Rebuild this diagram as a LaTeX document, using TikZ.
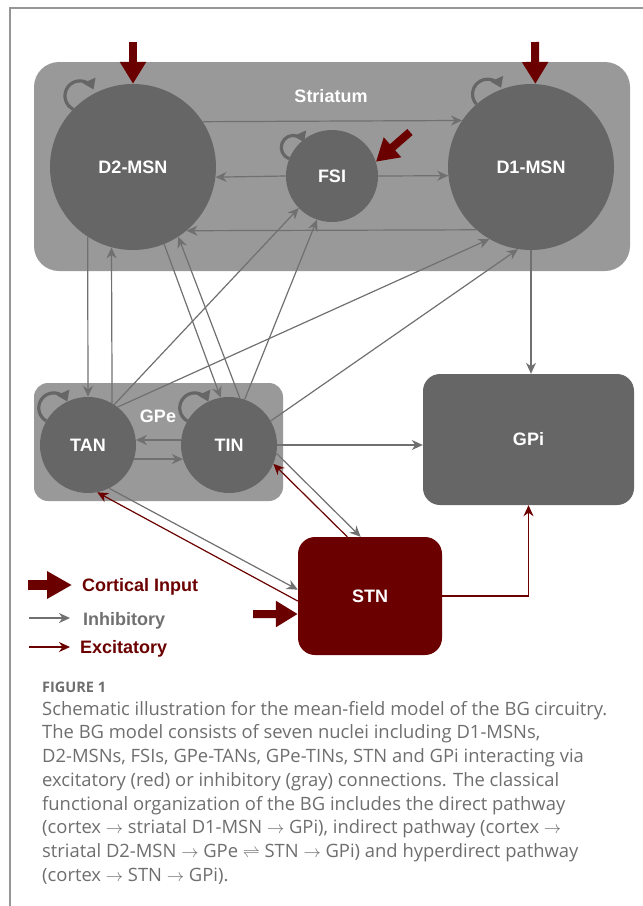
\documentclass[tikz,border=0pt]{standalone}
\usepackage{fontspec}
\usepackage{tikz}
\usetikzlibrary{arrows.meta}
\setmainfont{Liberation Sans}
\newfontfamily\capfont{Open Sans}
\tikzset{
  region/.style   = {shape=rectangle, draw=none, fill=regiongrey,
                     inner sep=0pt},
  nucleus/.style  = {shape=circle, fill=nucgrey, inner sep=0pt,
                     text=white},
  outnode/.style  = {shape=rectangle, rounded corners=17pt,
                     inner sep=0pt, text=white},
  inhib/.style    = {draw=linegrey, line width=1.2pt,
                     -{Stealth[length=11pt, width=10pt, inset=3.5pt]}},
  excit/.style    = {inhib, draw=stnred},
  selfloop/.style = {draw=nucgrey, line width=3.2pt,
                     -{Triangle[length=10pt, width=13pt]}},
  cortical/.style = {draw=stnred, line width=8pt,
                     -{Triangle[length=22pt, width=25pt]}},
  legtext/.style  = {anchor=base west, inner sep=0pt},
}
\definecolor{regiongrey}{RGB}{153,153,153}
\definecolor{nucgrey}{RGB}{102,102,102}
\definecolor{linegrey}{RGB}{112,112,112}
\definecolor{stnred}{RGB}{107,0,0}
\definecolor{framegrey}{RGB}{150,150,150}
\definecolor{capgrey}{RGB}{110,110,110}

\begin{document}
\begin{tikzpicture}
  [
    x                 = 1pt,
    y                 = 1pt,
    every node/.style = {font=\bfseries\fontsize{18}{20}\selectfont}
  ]
  \useasboundingbox (0,0) rectangle (643,-906);
  \draw [framegrey, line width=1.5pt] (643,-8) -- (10,-8) -- (10,-906);

  \node [region, rounded corners=25pt, minimum width=596pt, minimum height=209pt] (striatum) at (332,-166.5) {};
  \node [region, rounded corners=14pt, minimum width=249pt, minimum height=118pt] (gpe) at (158.5,-442) {};
  \node [text=white] (striatumlabel) at (331,-96) {Striatum};
  \node [text=white] (gpelabel) at (158,-416) {GPe};

  \node [nucleus, minimum size=166pt] (D2)  at (133,-167) {D2-MSN};
  \node [nucleus, minimum size=166pt] (D1)  at (531,-167) {D1-MSN};
  \node [nucleus, minimum size=92pt]  (FSI) at (332,-176) {FSI};
  \node [nucleus, minimum size=96pt]  (TAN) at (88,-445)  {TAN};
  \node [nucleus, minimum size=96pt]  (TIN) at (229,-445) {TIN};
  \node [outnode, fill=nucgrey, minimum width=211pt, minimum height=131pt] (GPi) at (528.5,-439.5) {GPi};
  \node [outnode, fill=stnred, minimum width=144pt, minimum height=118pt] (STN) at (370,-596) {STN};

  \draw [inhib] (D2.33.7) -- (D1.146.3);
  \draw [inhib] (FSI.west) -- (D2.353.8);
  \draw [inhib] (FSI.east) -- (D1.186.9);
  \draw [inhib] (D1.229.4) -- (D2.310.6);
  \draw [inhib] (D2.237.2) -- (TAN.north);
  \draw [inhib] (TAN.60) -- (D2.255.3);
  \draw [inhib] (D2.292.8) -- (TIN.100);
  \draw [inhib] (TIN.77) -- (D2.303.9);
  \draw [inhib] (TAN.57) -- (FSI.224.2);
  \draw [inhib] (TIN.71) -- (FSI.251.9);
  \draw [inhib] (TAN.52) -- (D1.240.7);
  \draw [inhib] (TIN.30) -- (D1.261.1);
  \draw [inhib] (D1.south) -- (GPi.north -| D1.south);
  \draw [inhib] (TIN.east) -- (TIN.east -| GPi.west);
  \draw [inhib] (TIN.174) -- (TAN.6);
  \draw [inhib] (TAN.343) -- (TIN.197);
  \draw [inhib] (TIN.350) -- (STN.99.6);
  \draw [inhib] (TAN.296) -- (STN.175.4);
  \draw [excit] (STN.111.3) -- (TIN.337);
  \draw [excit] (STN.184.8) -- (TAN.281.8);
  \draw [excit] (STN.east) -| (GPi.south);

  \draw [selfloop] (D2.136)  arc [start angle=243, end angle=25, radius=15pt];
  \draw [selfloop] (D1.131)  arc [start angle=222, end angle=25, radius=15pt];
  \draw [selfloop] (FSI.158) arc [start angle=250, end angle=25, radius=12pt];
  \draw [selfloop] (TAN.150) arc [start angle=240, end angle=25, radius=15pt];
  \draw [selfloop] (TIN.150) arc [start angle=240, end angle=25, radius=15pt];

  \coordinate (ctxD2)  at (133,-42);
  \coordinate (ctxD1)  at (535,-42);
  \coordinate (ctxFSI) at (410,-132);
  \coordinate (ctxSTN) at (253,-614);
  \draw [cortical] (ctxD2)  -- (D2.north);
  \draw [cortical] (ctxD1)  -- (D1.87);
  \draw [cortical] (ctxFSI) -- (FSI.18);
  \draw [cortical] (ctxSTN) -- (STN.194);

  \coordinate (legA) at (28,-585);
  \coordinate (legB) at (72,-585);
  \coordinate (legC) at (29,-618);
  \coordinate (legD) at (70,-618);
  \coordinate (legE) at (29,-647);
  \coordinate (legF) at (70,-647);
  \draw [cortical, line width=10pt, -{Triangle[length=25pt, width=26pt]}] (legA) -- (legB);
  \draw [inhib] (legC) -- (legD);
  \draw [excit] (legE) -- (legF);
  \node [legtext, text=stnred]   (legcortical) at (82,-591.7) {Cortical Input};
  \node [legtext, text=linegrey] (leginhib)    at (83,-625)   {Inhibitory};
  \node [legtext, text=stnred]   (legexcit)    at (80,-653)   {Excitatory};

  \node [anchor=base west, inner sep=0pt, text=capgrey,
         font=\capfont\bfseries\fontsize{14.5}{16}\selectfont] (figlabel) at (42,-692) {FIGURE 1};
  \node [anchor=north west, inner sep=0pt, align=left, text=capgrey,
         font=\capfont\fontsize{18.4}{23.7}\selectfont] (caption) at (42,-701)
    {Schematic illustration for the mean-field model of the BG circuitry.\\
     The BG model consists of seven nuclei including D1-MSNs,\\
     D2-MSNs, FSIs, GPe-TANs, GPe-TINs, STN and GPi interacting via\\
     excitatory (red) or inhibitory (gray) connections. The classical\\
     functional organization of the BG includes the direct pathway\\
     (cortex $\rightarrow$ striatal D1-MSN $\rightarrow$ GPi), indirect pathway (cortex $\rightarrow$\\
     striatal D2-MSN $\rightarrow$ GPe $\rightleftharpoons$ STN $\rightarrow$ GPi) and hyperdirect pathway\\
     (cortex $\rightarrow$ STN $\rightarrow$ GPi).};
\end{tikzpicture}
\end{document}
